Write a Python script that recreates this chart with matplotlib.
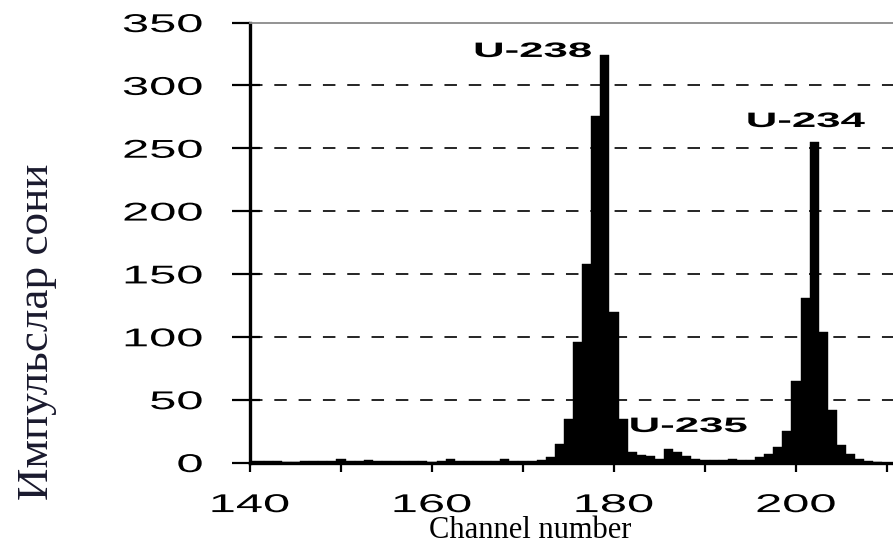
import matplotlib
matplotlib.use('Agg')
import matplotlib.pyplot as plt
from matplotlib.patheffects import AbstractPathEffect
from matplotlib.transforms import Affine2D
from matplotlib.ticker import FixedLocator

# alpha spectrum, counts per channel
channels = list(range(140, 211))
counts = [1, 1, 1, 1, 0.5, 0.5, 1, 1, 1, 1,          # 140-149
          3, 1, 1, 2, 1, 1, 1, 1, 1, 1,              # 150-159
          0.5, 1, 3, 1, 1, 1, 1, 1, 3, 1,            # 160-169
          1, 1, 2, 4, 15, 35, 96, 158, 276, 324,     # 170-179
          120, 35, 8, 6, 5, 3, 11, 8, 5, 3,          # 180-189
          2, 2, 2, 3, 2, 2, 4, 7, 12, 25,            # 190-199
          65, 131, 255, 104, 42, 14, 7, 3, 1, 0.5,   # 200-209
          0]                                         # 210

peak_names = ['U-238', 'U-234', 'U-235']
peak_x = [171.1, 201.1, 188.2]
peak_y = [322.6, 266.9, 24.3]

y_ticks = [0, 50, 100, 150, 200, 250, 300, 350]
x_ticks = [140, 150, 160, 170, 180, 190, 200, 210]
x_labels = ['140', '', '160', '', '180', '', '200', '']


# the old chart uses a horizontally stretched font, so stretch the glyphs
class WideText(AbstractPathEffect):
    def __init__(self, sx, anchor='center'):
        super().__init__()
        self.sx = sx
        self.anchor = anchor

    def draw_path(self, renderer, gc, tpath, affine, rgbFace=None):
        ext = tpath.get_extents()
        if self.anchor == 'right':
            x0 = ext.x1
        elif self.anchor == 'left':
            x0 = ext.x0
        else:
            x0 = (ext.x0 + ext.x1) / 2
        stretch = Affine2D().translate(-x0, 0).scale(self.sx, 1).translate(x0, 0)
        renderer.draw_path(gc, tpath, stretch + affine, rgbFace)


plt.rcParams['lines.scale_dashes'] = False

fig = plt.figure(figsize=(8.93, 5.54), dpi=100)
ax = fig.add_axes([250 / 893, (554 - 462.5) / 554, 643 / 893, 440 / 554])

for v in y_ticks[1:-1]:
    ax.axhline(v, color='black', lw=1.2, dashes=(9, 8.5), zorder=0)

ax.bar(channels, counts, width=1.0, color='black', edgecolor='black', lw=0.3, zorder=2)

ax.set_xlim(140, 140 + 643 / 9.1)
ax.set_ylim(0, 350)

ax.spines['right'].set_visible(False)
ax.spines['top'].set_color('#8a8a8a')
ax.spines['top'].set_linewidth(1.3)
ax.spines['left'].set_linewidth(2.4)
ax.spines['bottom'].set_linewidth(2.4)

ax.set_xticks(x_ticks)
ax.set_xticklabels(x_labels)
ax.set_yticks(y_ticks)
ax.yaxis.set_minor_locator(FixedLocator(y_ticks[:-1]))
ax.yaxis.remove_overlapping_locs = False

ax.tick_params(axis='x', direction='out', length=6.5, width=1.6, pad=15.5,
               labelsize=18.5, labelfontfamily='Liberation Sans')
ax.tick_params(axis='y', which='major', direction='out', length=13, width=1.6, pad=21,
               labelsize=18.5, labelfontfamily='Liberation Sans')
ax.tick_params(axis='y', which='minor', direction='in', length=7, width=1.6)

for name, px, py in zip(peak_names, peak_x, peak_y):
    ax.text(px, py, name, ha='center', va='baseline', fontsize=15, fontweight='bold',
            family='Liberation Sans', zorder=3, path_effects=[WideText(2.1)])

fig.text(530 / 893, 1 - 531 / 554, 'Channel number', ha='center', va='center',
         fontsize=22, family='Liberation Serif')
fig.text(37 / 893, 1 - 332 / 554, 'Импульслар сони', ha='center', va='center',
         rotation=90, fontsize=32.5, family='Liberation Serif', color='#1a1a2e')

fig.canvas.draw()
for t in ax.xaxis.get_major_ticks():
    t.label1.set_path_effects([WideText(1.9)])
for t in ax.yaxis.get_major_ticks():
    t.label1.set_path_effects([WideText(1.9, anchor='right')])

fig.savefig('out.png', dpi=100)
